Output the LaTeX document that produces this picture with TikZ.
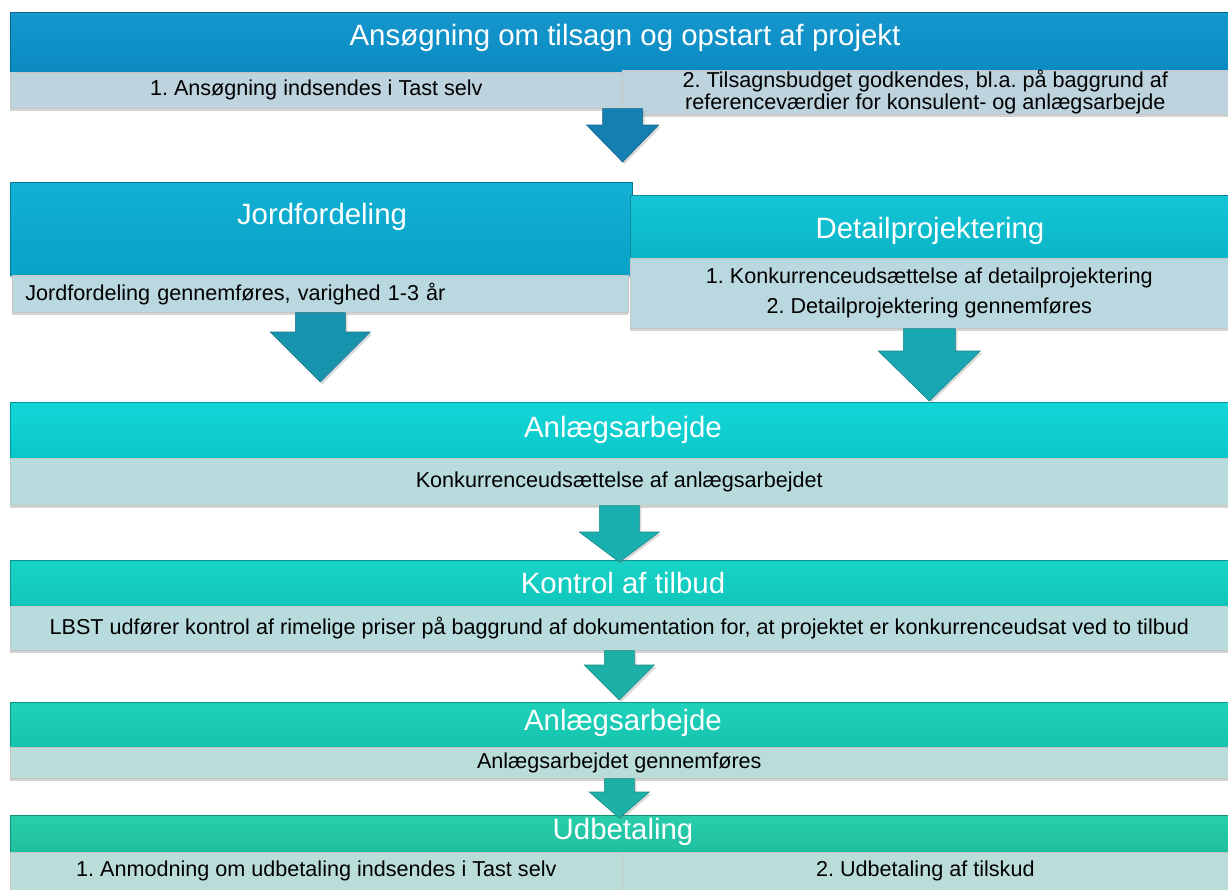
\documentclass[tikz,border=0pt]{standalone}
\usepackage{fontspec}
\setmainfont{Liberation Sans}
\usetikzlibrary{positioning,calc,shadows}
\frenchspacing
\definecolor{hdrA}{HTML}{0B93CC}
\definecolor{hdrB}{HTML}{08ADD2}
\definecolor{hdrC}{HTML}{0AC2D4}
\definecolor{hdrD}{HTML}{0AD4D6}
\definecolor{hdrE}{HTML}{10D2C6}
\definecolor{hdrF}{HTML}{17D0B8}
\definecolor{hdrG}{HTML}{20CBA8}
\definecolor{bandA}{HTML}{BDD3DE}
\definecolor{bandB}{HTML}{BAD8DF}
\definecolor{bandC}{HTML}{B8DBDD}
\definecolor{bandD}{HTML}{BBDDDA}
\definecolor{arrA}{HTML}{167FB2}
\definecolor{arrB}{HTML}{1893AD}
\definecolor{arrC}{HTML}{19A8B3}
\definecolor{arrD}{HTML}{1AAFAF}
\definecolor{arrE}{HTML}{1CB0A6}
\tikzset{
  hdr/.style={rectangle, anchor=north west, inner sep=0pt, draw=#1!70!black, line width=0.4pt,
    top color=#1!96!white, bottom color=#1!94!black,
    drop shadow={opacity=0.35, shadow xshift=0pt, shadow yshift=-1.5pt}},
  band/.style={rectangle, anchor=north west, inner sep=0pt, draw=gray!45, line width=0.3pt, fill=#1,
    font=\fontsize{10.8}{11}\selectfont, align=center,
    drop shadow={opacity=0.35, shadow xshift=0pt, shadow yshift=-1.5pt}},
  ttl/.style={text=white, font=\fontsize{14.7}{17}\selectfont, inner sep=0pt},
}
% block arrow from #1 down to #2: shaft half, head half, head length, colour
\newcommand{\fatarrow}[6]{%
  \fill[#6, draw=#6!80!black, line width=0.3pt,
    drop shadow={opacity=0.3, shadow xshift=1pt, shadow yshift=-1pt}]
    let \p1=(#1), \p2=(#2) in
    (\x1-#3,\y1) -- (\x1-#3,\y2+#5) -- (\x1-#4,\y2+#5) -- (\x1,\y2)
    -- (\x1+#4,\y2+#5) -- (\x1+#3,\y2+#5) -- (\x1+#3,\y1) -- cycle;}

\begin{document}
\begin{tikzpicture}[x=0.5pt,y=-0.5pt]
  \useasboundingbox (0,0) rectangle (1228,890);

  % Ansoegning
  \node[hdr=hdrA, minimum width=609pt, minimum height=30pt] (ans) at (10,12) {};
  \node[ttl] (ansT) at (625,38) {Ansøgning om tilsagn og opstart af projekt};
  \node[band=bandA, minimum width=306pt, minimum height=18pt] (ans1) at (10,72) {1. Ansøgning indsendes i Tast selv};
  \node[band=bandA, minimum width=303pt, minimum height=19pt] (ans2) at (622,70)
    {2. Tilsagnsbudget godkendes, bl.a. på baggrund af\\referenceværdier for konsulent- og anlægsarbejde};

  % Jordfordeling
  \node[hdr=hdrB, minimum width=311pt, minimum height=46.5pt] (jord) at (10,182) {};
  \node[ttl] (jordT) at (322,217) {Jordfordeling};
  \node[band=bandB, minimum width=308pt, minimum height=18.5pt, inner xsep=6.5pt, text width=295pt, align=left] (jord1) at (12,275)
    {Jordfordeling gennemføres, varighed 1-3 år};

  % Detailprojektering
  \node[hdr=hdrC, minimum width=299pt, minimum height=31.5pt] (det) at (630,195) {};
  \node[ttl] (detT) at (930,231) {Detailprojektering};
  \node[band=bandB, minimum width=299pt, minimum height=35pt, font=\fontsize{10.8}{15}\selectfont] (det1) at (630,258)
    {1. Konkurrenceudsættelse af detailprojektering\\2. Detailprojektering gennemføres};

  % Anlaegsarbejde
  \node[hdr=hdrD, minimum width=609pt, minimum height=28pt] (anl) at (10,402) {};
  \node[ttl] (anlT) at (623,430) {Anlægsarbejde};
  \node[band=bandC, minimum width=609pt, minimum height=23.5pt] (anl1) at (10,458) {Konkurrenceudsættelse af anlægsarbejdet};

  % Kontrol
  \node[hdr=hdrE, minimum width=609pt, minimum height=23pt] (kon) at (10,560) {};
  \node[ttl] (konT) at (623,583) {Kontrol af tilbud};
  \node[band=bandC, minimum width=609pt, minimum height=22pt] (kon1) at (10,606)
    {LBST udfører kontrol af rimelige priser på baggrund af dokumentation for, at projektet er konkurrenceudsat ved to tilbud};

  % Anlaegsarbejde 2
  \node[hdr=hdrF, minimum width=609pt, minimum height=22.5pt] (gen) at (10,702) {};
  \node[ttl] (genT) at (623,723) {Anlægsarbejde};
  \node[band=bandD, minimum width=609pt, minimum height=15.5pt] (gen1) at (10,747) {Anlægsarbejdet gennemføres};

  % Udbetaling
  \node[hdr=hdrG, minimum width=609pt, minimum height=18.5pt] (udb) at (10,815) {};
  \node[ttl] (udbT) at (623,832) {Udbetaling};
  \node[band=bandD, minimum width=306pt, minimum height=19pt] (udb1) at (10,852) {1. Anmodning om udbetaling indsendes i Tast selv};
  \node[band=bandD, minimum width=303pt, minimum height=19pt] (udb2) at (622,852) {2. Udbetaling af tilskud};

  % arrows
  \coordinate (a1) at (622,162);
  \coordinate (a2) at (322,382);
  \coordinate (a3) at (930,401);
  \coordinate (a4) at (623,562);
  \coordinate (a5) at (623,700);
  \coordinate (a6) at (623,818);
  \fatarrow{ans1.south east}{a1}{10pt}{18pt}{18.5pt}{arrA}
  \fatarrow{jord1.south}{a2}{12.5pt}{25pt}{25pt}{arrB}
  \fatarrow{det1.south}{a3}{13pt}{25.5pt}{25pt}{arrC}
  \fatarrow{anl1.south}{a4}{10pt}{20pt}{15pt}{arrD}
  \fatarrow{kon1.south}{a5}{7.5pt}{17.5pt}{17.5pt}{arrE}
  \fatarrow{gen1.south}{a6}{7.5pt}{15pt}{13pt}{arrE}
\end{tikzpicture}
\end{document}
